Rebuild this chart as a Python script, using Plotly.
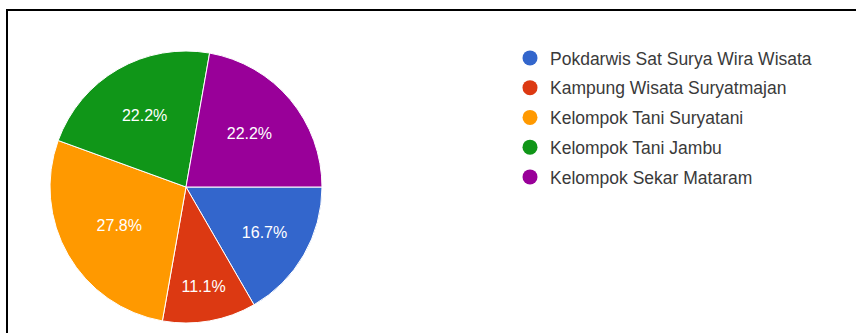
import plotly.graph_objects as go

# Group names and their response counts
groups = [
    "Pokdarwis Sat Surya Wira Wisata",
    "Kampung Wisata Suryatmajan",
    "Kelompok Tani Suryatani",
    "Kelompok Tani Jambu",
    "Kelompok Sekar Mataram",
]
counts = [3, 2, 5, 4, 4]
colors = ["#3366cc", "#dc3912", "#ff9900", "#109618", "#990099"]

W, H = 856, 333
FONT = "Liberation Sans, Arial, sans-serif"

fig = go.Figure()

fig.add_trace(go.Pie(
    labels=groups,
    values=counts,
    sort=False,
    direction="clockwise",
    rotation=90,
    marker=dict(colors=colors, line=dict(color="white", width=1)),
    textinfo="percent",
    textposition="inside",
    insidetextorientation="horizontal",
    textfont=dict(color="white", size=16, family=FONT),
    domain=dict(x=[50 / W, 322 / W], y=[(H - 323) / H, (H - 51) / H]),
    showlegend=False,
    hoverinfo="label+percent",
))

# Legend entries, one per group
for name, col in zip(groups, colors):
    fig.add_trace(go.Scatter(
        x=[None], y=[None], mode="markers", name=name, legendgroup=name,
        marker=dict(color=col, size=15, symbol="circle"),
    ))

fig.update_layout(
    width=W, height=H,
    margin=dict(l=0, r=0, t=0, b=0),
    paper_bgcolor="white",
    plot_bgcolor="white",
    xaxis=dict(visible=False),
    yaxis=dict(visible=False),
    legend=dict(
        x=510 / W, y=(H - 40) / H, xanchor="left", yanchor="top",
        font=dict(size=17.5, color="#3a3a3a", family=FONT),
        itemwidth=30, tracegroupgap=4, traceorder="grouped",
        bgcolor="rgba(0,0,0,0)",
    ),
    shapes=[dict(
        type="rect", xref="paper", yref="paper",
        x0=7 / W, x1=1.02, y0=-0.02, y1=(H - 10) / H,
        line=dict(color="black", width=2), fillcolor="rgba(0,0,0,0)",
    )],
)

fig.write_html("out.html")
